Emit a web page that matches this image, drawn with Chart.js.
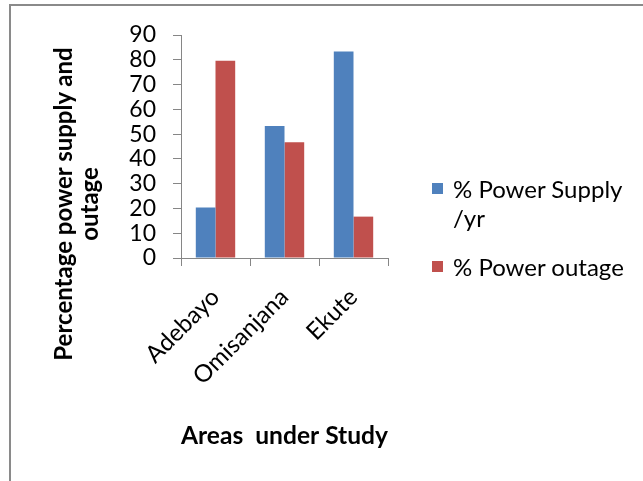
<!DOCTYPE html>
<html>
<head>
<meta charset="utf-8">
<script src="https://cdn.jsdelivr.net/npm/chart.js@4.4.1/dist/chart.umd.min.js"></script>
<style>
  html, body { margin: 0; padding: 0; background: #fff; }
  #wrap { position: relative; width: 643px; height: 481px; overflow: hidden; font-family: Lato, "Open Sans", sans-serif; }
  #frame { position: absolute; left: 9px; top: 4px; width: 700px; height: 600px; border: 2px solid #8a8a8a; box-sizing: border-box; }
  #chart { position: absolute; left: 0; top: 0; }
  #ytitle {
    position: absolute; left: 76px; top: 204px; width: 360px;
    transform: translate(-50%, -50%) rotate(-90deg);
    text-align: center; font-weight: bold; font-size: 24px; line-height: 26px; color: #000;
  }
  #legend { position: absolute; left: 432px; top: 174px; font-size: 24px; color: #000; }
  .item { position: relative; padding-left: 21px; line-height: 29px; margin-bottom: 20px; }
  .box { position: absolute; left: 0; top: 9px; width: 11px; height: 11px; }
</style>
</head>
<body>
<div id="wrap">
  <div id="frame"></div>
  <canvas id="chart" width="643" height="481"></canvas>
  <div id="ytitle">Percentage power supply and<br>outage</div>
  <div id="legend"></div>
</div>
<script>
// Data
const AREAS = ["Adebayo", "Omisanjana", "Ekute"];
const SUPPLY = [20.4, 53.3, 83.3];
const OUTAGE = [79.6, 46.7, 16.7];
const SERIES_NAMES = [["% Power Supply", "/yr"], ["% Power outage"]];
const SERIES_COLORS = ["#4F81BD", "#C0504D"];

const AXIS_COLOR = "#868686";
const FONT = "Lato, 'Open Sans', sans-serif";

// 外框线由 CSS 画，图例用 HTML
function renderLegend() {
  const el = document.getElementById("legend");
  el.innerHTML = SERIES_NAMES.map((lines, i) =>
    `<div class="item"><span class="box" style="background:${SERIES_COLORS[i]}"></span>${lines.join("<br>")}</div>`
  ).join("");
}

function renderChart() {
  const ctx = document.getElementById("chart").getContext("2d");
  new Chart(ctx, {
    type: "bar",
    data: {
      labels: AREAS,
      datasets: [
        { label: SERIES_NAMES[0].join(" "), data: SUPPLY, backgroundColor: SERIES_COLORS[0] },
        { label: SERIES_NAMES[1].join(" "), data: OUTAGE, backgroundColor: SERIES_COLORS[1] },
      ],
    },
    options: {
      responsive: false,
      animation: false,
      devicePixelRatio: 1,
      layout: { padding: { left: 100, right: 255, top: 35, bottom: 0 } },
      plugins: { legend: { display: false }, tooltip: { enabled: false } },
      datasets: { bar: { categoryPercentage: 0.571, barPercentage: 1 } },
      scales: {
        x: {
          afterFit: (s) => { s.height = 223; },
          grid: { drawOnChartArea: false, tickLength: 8, color: AXIS_COLOR, offset: true },
          border: { color: AXIS_COLOR, width: 1 },
          ticks: { color: "#000", font: { family: FONT, size: 24 }, minRotation: 45, maxRotation: 45, padding: 17 },
          title: {
            display: true, text: "Areas  under Study", color: "#000",
            font: { family: FONT, size: 25, weight: "bold" }, padding: { top: 0, bottom: 30 },
          },
        },
        y: {
          min: 0, max: 90,
          afterFit: (s) => { s.width = 81; },
          grid: { drawOnChartArea: false, tickLength: 8, color: AXIS_COLOR },
          border: { color: AXIS_COLOR, width: 1 },
          ticks: { stepSize: 10, autoSkip: false, color: "#000", font: { family: FONT, size: 23 }, padding: 17 },
        },
      },
    },
  });
}

document.addEventListener("DOMContentLoaded", () => {
  renderLegend();
  renderChart();
});
</script>
</body>
</html>
